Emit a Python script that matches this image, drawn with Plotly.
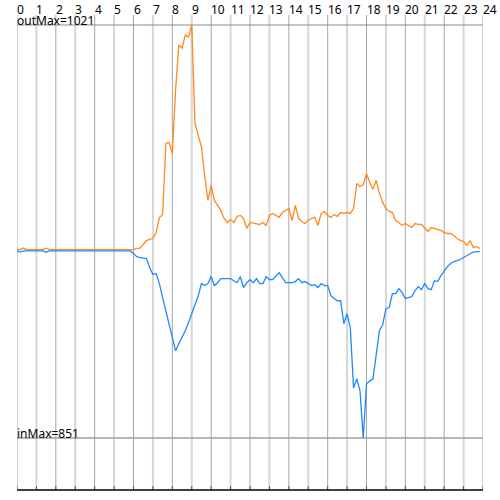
import plotly.graph_objects as go

# 10-minute samples, hours 0 .. 23.83
hours = [i / 6 for i in range(144)]

out_flat = [3, 3, 10, 3, 3, 3, 3, 3, 3, 9, 3, 3, 3, 3, 3, 3, 3, 5,
            3, 3, 3, 3, 3, 3, 3, 3, 6, 3, 3, 3, 3, 3, 3, 3, 3, 3]
out_day = [3, 8, 10, 26, 44, 49,
           53, 80, 148, 162, 484, 489,
           439, 725, 930, 916, 975, 966,
           1021, 575, 521, 467, 339, 226,
           294, 226, 203, 180, 144, 126,
           139, 126, 153, 158, 144, 99,
           126, 124, 121, 117, 126, 112,
           158, 167, 158, 149, 171, 180,
           189, 135, 203, 144, 130, 121,
           135, 144, 149, 112, 167, 176,
           158, 149, 162, 153, 171, 167,
           171, 167, 189, 303, 289, 298,
           348, 307, 276, 317, 258, 217,
           189, 176, 171, 135, 126, 112,
           121, 112, 103, 121, 117, 117,
           99, 85, 103, 99, 94, 90,
           80, 76, 76, 67, 53, 44,
           40, 21, 44, 12, 17, 8]
out_values = out_flat + out_day

in_flat = [3, 8, 3, 3, 3, 3, 3, 3, 3, 9, 3, 3, 3, 3, 3, 3, 3, 5,
           3, 3, 3, 3, 3, 3, 3, 3, 3, 3, 3, 3, 3, 3, 3, 3, 3, 3]
in_day = [15, 29, 33, 35, 38, 79,
          110, 106, 151, 215, 274, 342,
          397, 456, 424, 397, 365, 328,
          288, 251, 206, 151, 160, 151,
          119, 160, 147, 129, 129, 129,
          129, 138, 147, 119, 169, 147,
          133, 147, 129, 151, 151, 119,
          133, 133, 119, 101, 124, 147,
          147, 147, 142, 129, 147, 142,
          151, 160, 156, 169, 151, 160,
          160, 206, 219, 229, 229, 333,
          288, 351, 624, 583, 638, 851,
          606, 592, 583, 470, 365, 338,
          265, 260, 197, 197, 174, 192,
          219, 215, 210, 183, 165, 179,
          151, 174, 179, 138, 142, 115,
          92, 74, 60, 51, 47, 42,
          33, 24, 15, 8, 6, 6]
in_values = in_flat + in_day

out_max = 1021
in_max = 851
hour_ticks = list(range(25))

y_top = 1066.3
y_bottom = -1086.7

fig = go.Figure()
fig.add_trace(go.Scatter(x=hours, y=out_values, mode="lines",
                         line=dict(color="#FF8A1C", width=1.3), hoverinfo="skip"))
fig.add_trace(go.Scatter(x=hours, y=[-v for v in in_values], mode="lines",
                         line=dict(color="#1E88FF", width=1.3), hoverinfo="skip"))

shapes = []
for h in hour_ticks:
    if h % 2 == 0:
        shapes.append(dict(type="line", xref="x", yref="paper", x0=h, x1=h, y0=0, y1=1,
                           line=dict(color="#a6a6a6", width=1), layer="below"))
    else:
        shapes.append(dict(type="line", xref="x", yref="paper", x0=h, x1=h, y0=0, y1=1,
                           line=dict(color="#d6d6d6", width=2), layer="below"))
    shapes.append(dict(type="line", xref="x", yref="y", x0=h, x1=h, y0=y_bottom, y1=y_bottom + 18,
                       line=dict(color="#555555", width=1), layer="below"))
shapes.append(dict(type="line", xref="x", yref="y", x0=0, x1=24, y0=out_max, y1=out_max,
                   line=dict(color="#8c8c8c", width=1), layer="below"))
shapes.append(dict(type="line", xref="x", yref="y", x0=0, x1=24, y0=-in_max, y1=-in_max,
                   line=dict(color="#a0a0a0", width=1.5), layer="below"))
shapes.append(dict(type="line", xref="x", yref="paper", x0=0, x1=24, y0=0, y1=0,
                   line=dict(color="#000000", width=1.5)))

annotations = []
for h in hour_ticks:
    annotations.append(dict(x=h, y=1, xref="x", yref="paper", text=str(h), showarrow=False,
                            xanchor="left", yanchor="middle", yshift=6, xshift=-2,
                            font=dict(size=12, color="#000000")))
annotations.append(dict(x=0, y=out_max, xref="x", yref="y", text=f"outMax={out_max}",
                        showarrow=False, xanchor="left", yanchor="middle", xshift=-2, yshift=4,
                        font=dict(size=12, color="#000000")))
annotations.append(dict(x=0, y=-in_max, xref="x", yref="y", text=f"inMax={in_max}",
                        showarrow=False, xanchor="left", yanchor="middle", xshift=-2, yshift=5,
                        font=dict(size=12, color="#000000")))

fig.update_layout(
    width=500, height=500,
    margin=dict(l=17, r=17, t=15, b=10, autoexpand=False),
    paper_bgcolor="white", plot_bgcolor="white",
    showlegend=False,
    font=dict(family="Noto Sans, Open Sans, sans-serif"),
    xaxis=dict(range=[0, 24], visible=False, fixedrange=True),
    yaxis=dict(range=[y_bottom, y_top], visible=False, fixedrange=True),
    shapes=shapes, annotations=annotations,
)

fig.write_html("out.html", config={"displayModeBar": False},
               post_script="document.body.style.margin='0px';document.body.style.overflow='hidden';")
